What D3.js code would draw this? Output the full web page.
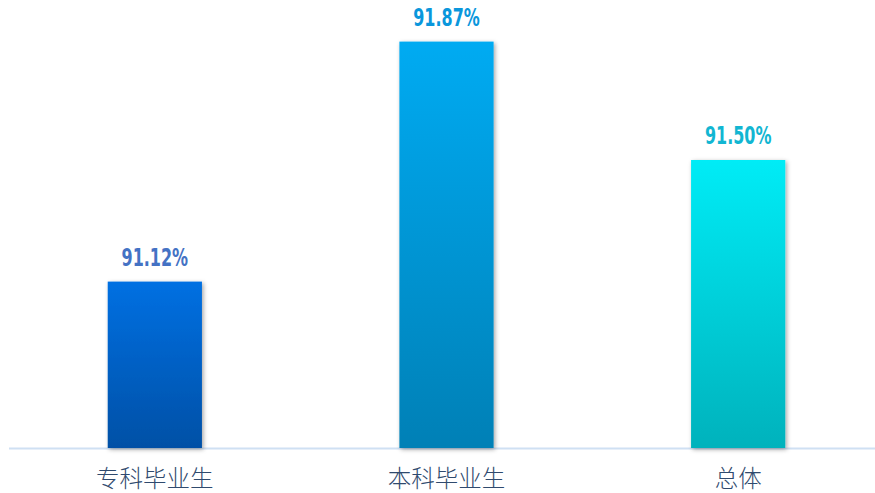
<!DOCTYPE html>
<html><head><meta charset="utf-8">
<script src="https://cdn.jsdelivr.net/npm/d3@7"></script>
<style>html,body{margin:0;padding:0;background:#fff;}svg{display:block;}</style>
</head><body>
<svg id="c" width="875" height="493"></svg>
<script>
const categories = ["专科毕业生", "本科毕业生", "总体"];
const values = [91.12, 91.87, 91.50];
const valueLabels = ["91.12%", "91.87%", "91.50%"];
const barTop = ["#0070e2", "#00abf2", "#00ecf6"];
const barBottom = ["#0050a6", "#0080b6", "#00b2bc"];
const labelColors = ["#4472c4", "#0a97dc", "#12b6d2"];

const svg = d3.select("#c");
const x = d3.scaleBand().domain(categories).range([9, 884]).paddingInner(0.677).paddingOuter(0.3385);
const y = d3.scaleLinear().domain([90.6, 92.0]).range([448, 0]);

const defs = svg.append("defs");
categories.forEach((c, i) => {
  const g = defs.append("linearGradient").attr("id", "g" + i).attr("x1", 0).attr("y1", 0).attr("x2", 0).attr("y2", 1);
  g.append("stop").attr("offset", "0%").attr("stop-color", barTop[i]);
  g.append("stop").attr("offset", "100%").attr("stop-color", barBottom[i]);
});
const f = defs.append("filter").attr("id", "sh").attr("x", "-20%").attr("y", "-20%").attr("width", "140%").attr("height", "140%");
f.append("feDropShadow").attr("dx", 1.5).attr("dy", 1.5).attr("stdDeviation", 2).attr("flood-color", "#000").attr("flood-opacity", 0.35);

svg.append("line").attr("x1", 9).attr("x2", 884).attr("y1", 448.5).attr("y2", 448.5)
  .attr("stroke", "#cfe0f3").attr("stroke-width", 2);

svg.selectAll("rect.bar").data(values).join("rect").attr("class", "bar")
  .attr("x", (d, i) => x(categories[i]))
  .attr("width", x.bandwidth())
  .attr("y", d => y(d))
  .attr("height", d => y(90.6) - y(d))
  .attr("fill", (d, i) => `url(#g${i})`)
  .attr("filter", "url(#sh)");

svg.selectAll("text.val").data(values).join("text").attr("class", "val")
  .attr("transform", (d, i) => `translate(${x(categories[i]) + x.bandwidth() / 2},${y(d) - 16}) scale(0.74,1.03)`)
  .attr("text-anchor", "middle")
  .attr("font-family", "'DejaVu Sans Condensed','DejaVu Sans',sans-serif")
  .attr("font-weight", "bold")
  .attr("font-size", 24)
  .attr("fill", (d, i) => labelColors[i])
  .text((d, i) => valueLabels[i]);

const xAxis = d3.axisBottom(x).tickSize(0).tickPadding(0);
const ax = svg.append("g").attr("transform", "translate(0,448)").call(xAxis);
ax.select(".domain").remove();
ax.selectAll("text")
  .attr("y", 39).attr("dy", 0)
  .attr("font-family", "'Noto Sans CJK SC',sans-serif")
  .attr("font-weight", 300)
  .attr("font-size", 23.5)
  .attr("fill", "#2f4a6e");
</script>
</body></html>
